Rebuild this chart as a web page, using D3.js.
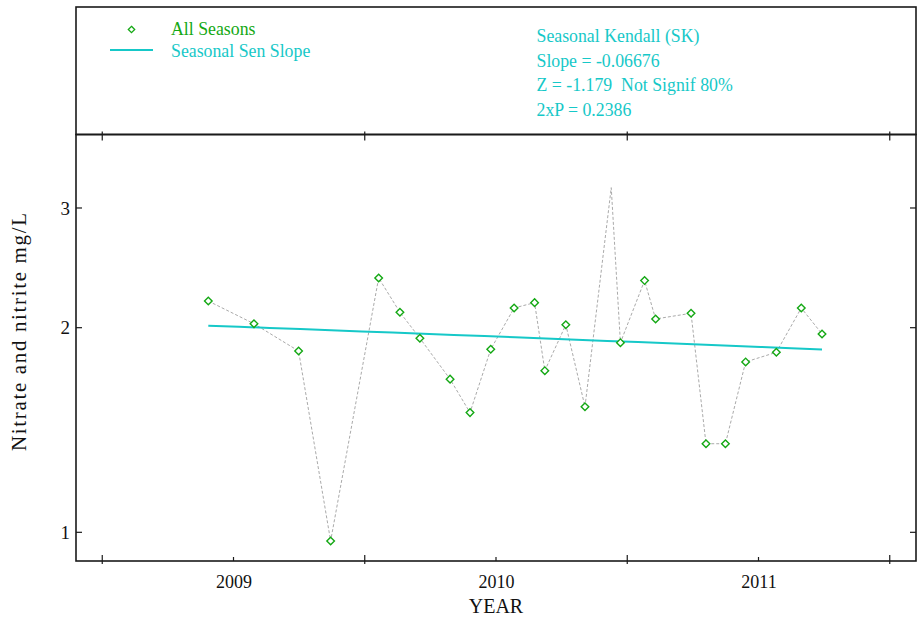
<!DOCTYPE html>
<html>
<head>
<meta charset="utf-8">
<script src="https://cdn.jsdelivr.net/npm/d3@7"></script>
<style>
  html, body { margin: 0; padding: 0; background: #fff; }
  svg { display: block; font-family: "Liberation Serif", "Times New Roman", serif; }
</style>
</head>
<body>
<svg id="chart" width="919" height="621"></svg>
<script>
// Sample dates (decimal years) and nitrate + nitrite concentrations (mg/L)
const sampleYears = [
  2008.904, 2009.078, 2009.248, 2009.370, 2009.553, 2009.634, 2009.710,
  2009.825, 2009.901, 2009.980, 2010.069, 2010.147, 2010.186, 2010.266,
  2010.339, 2010.439, 2010.474, 2010.566, 2010.608, 2010.743, 2010.800,
  2010.874, 2010.951, 2011.068, 2011.163, 2011.242
];
const sampleValues = [
  2.189, 2.027, 1.848, 0.971, 2.367, 2.107, 1.930,
  1.680, 1.500, 1.859, 2.138, 2.177, 1.729, 2.020,
  1.530, 3.214, 1.901, 2.346, 2.060, 2.100, 1.350,
  1.350, 1.781, 1.840, 2.138, 1.958
];
// Samples drawn with a diamond marker (the 2010.439 sample is on the line only)
const sampleMarked = [
  true, true, true, true, true, true, true,
  true, true, true, true, true, true, true,
  true, false, true, true, true, true, true,
  true, true, true, true, true
];

// Seasonal Kendall results
const senSlope = -0.06676;      // mg/L per year
const senStartValue = 2.014;    // value of the Sen line at the first sample
const statsLines = [
  "Seasonal Kendall (SK)",
  "Slope = -0.06676",
  "Z = -1.179  Not Signif 80%",
  "2xP = 0.2386"
];
const legendLabels = ["All Seasons", "Seasonal Sen Slope"];

// Axis ticks
const yTickValues = [1, 2, 3];
const yearTicks = [2009, 2010, 2011];
const halfYearTicks = [2008.5, 2009.5, 2010.5, 2011.5];
const xDomain = [2008.4, 2011.6];
const yDomain = [0.9074, 3.848];

const green = "#14a814";
const cyan = "#16c8c8";
const frame = "#1a1a1a";

const svg = d3.select("#chart");
const plot = { left: 76, right: 916, top: 134.5, bottom: 561 };
const header = { top: 7 };

const x = d3.scaleLinear().domain(xDomain).range([plot.left, plot.right]);
const y = d3.scaleLog().domain(yDomain).range([plot.bottom, plot.top]);

// Header box and plot frame
svg.append("rect")
  .attr("x", plot.left).attr("y", header.top)
  .attr("width", plot.right - plot.left).attr("height", plot.top - header.top)
  .attr("fill", "none").attr("stroke", frame).attr("stroke-width", 1.6);
svg.append("rect")
  .attr("x", plot.left).attr("y", plot.top)
  .attr("width", plot.right - plot.left).attr("height", plot.bottom - plot.top)
  .attr("fill", "none").attr("stroke", frame).attr("stroke-width", 1.6);

// Bottom axis: year labels with short inside ticks, half-year ticks crossing the axis
const xAxisYears = d3.axisBottom(x).tickValues(yearTicks).tickFormat(d3.format("d")).tickSize(0).tickPadding(14);
const gx = svg.append("g").attr("transform", `translate(0,${plot.bottom})`).call(xAxisYears);
gx.select(".domain").remove();
gx.selectAll("text").attr("font-size", 18).attr("font-family", "Liberation Serif").attr("fill", "#111");

const ticks = svg.append("g").attr("stroke", frame).attr("stroke-width", 1.2);
ticks.selectAll(".yt").data(yearTicks).join("line")
  .attr("x1", d => x(d)).attr("x2", d => x(d))
  .attr("y1", plot.bottom - 4).attr("y2", plot.bottom);
ticks.selectAll(".hb").data(halfYearTicks).join("line")
  .attr("x1", d => x(d)).attr("x2", d => x(d))
  .attr("y1", plot.bottom - 6).attr("y2", plot.bottom + 3);
ticks.selectAll(".ht").data(halfYearTicks).join("line")
  .attr("x1", d => x(d)).attr("x2", d => x(d))
  .attr("y1", plot.top - 3).attr("y2", plot.top + 6);

// Left axis labels and inside ticks on both sides
const yAxis = d3.axisLeft(y).tickValues(yTickValues).tickFormat(d3.format("d")).tickSize(0).tickPadding(6);
const gy = svg.append("g").attr("transform", `translate(${plot.left},0)`).call(yAxis);
gy.select(".domain").remove();
gy.selectAll("text").attr("font-size", 19).attr("font-family", "Liberation Serif").attr("fill", "#111");
ticks.selectAll(".yl").data(yTickValues).join("line")
  .attr("x1", plot.left).attr("x2", plot.left + 6)
  .attr("y1", d => y(d)).attr("y2", d => y(d));
ticks.selectAll(".yr").data(yTickValues).join("line")
  .attr("x1", plot.right - 6).attr("x2", plot.right)
  .attr("y1", d => y(d)).attr("y2", d => y(d));

// Axis titles
svg.append("text")
  .attr("x", x(2010)).attr("y", 613)
  .attr("text-anchor", "middle").attr("font-size", 20).attr("fill", "#111")
  .text("YEAR");
svg.append("text")
  .attr("transform", `translate(26,332) rotate(-90)`)
  .attr("text-anchor", "middle").attr("font-size", 21).attr("fill", "#111")
  .attr("textLength", 238).attr("lengthAdjust", "spacing")
  .text("Nitrate and nitrite mg/L");

// Dashed line joining the samples
const samples = sampleYears.map((t, i) => ({ t, v: sampleValues[i], marked: sampleMarked[i] }));
svg.append("path")
  .datum(samples)
  .attr("fill", "none").attr("stroke", "#aaaaaa").attr("stroke-width", 1)
  .attr("stroke-dasharray", "3,2")
  .attr("d", d3.line().x(d => x(d.t)).y(d => y(d.v)));

// Seasonal Sen slope line
const t0 = sampleYears[0], t1 = sampleYears[sampleYears.length - 1];
const senPts = d3.range(0, 21).map(k => {
  const t = t0 + (t1 - t0) * k / 20;
  return { t, v: senStartValue + senSlope * (t - t0) };
});
svg.append("path")
  .datum(senPts)
  .attr("fill", "none").attr("stroke", cyan).attr("stroke-width", 2)
  .attr("d", d3.line().x(d => x(d.t)).y(d => y(d.v)));

// Diamond markers
const diamond = r => `M0,${-r}L${r},0L0,${r}L${-r},0Z`;
svg.append("g").selectAll("path")
  .data(samples.filter(d => d.marked))
  .join("path")
  .attr("transform", d => `translate(${x(d.t)},${y(d.v)})`)
  .attr("d", diamond(3.8))
  .attr("fill", "#fff").attr("stroke", green).attr("stroke-width", 1.4);

// Legend
const legend = svg.append("g");
legend.append("path")
  .attr("transform", "translate(131.5,29.5)")
  .attr("d", diamond(3.2))
  .attr("fill", "#fff").attr("stroke", green).attr("stroke-width", 1.3);
legend.append("line")
  .attr("x1", 110).attr("x2", 153).attr("y1", 50).attr("y2", 50)
  .attr("stroke", cyan).attr("stroke-width", 2);
legend.selectAll("text").data(legendLabels).join("text")
  .attr("x", 171).attr("y", (d, i) => 35 + i * 21.5)
  .attr("font-size", 17.8)
  .attr("fill", (d, i) => i === 0 ? green : cyan)
  .text(d => d);

// Trend statistics
svg.append("g").selectAll("text").data(statsLines).join("text")
  .attr("x", 536.5).attr("y", (d, i) => 42 + i * 24.7)
  .attr("font-size", 17.8).attr("fill", cyan)
  .attr("xml:space", "preserve").style("white-space", "pre")
  .text(d => d);
</script>
</body>
</html>
